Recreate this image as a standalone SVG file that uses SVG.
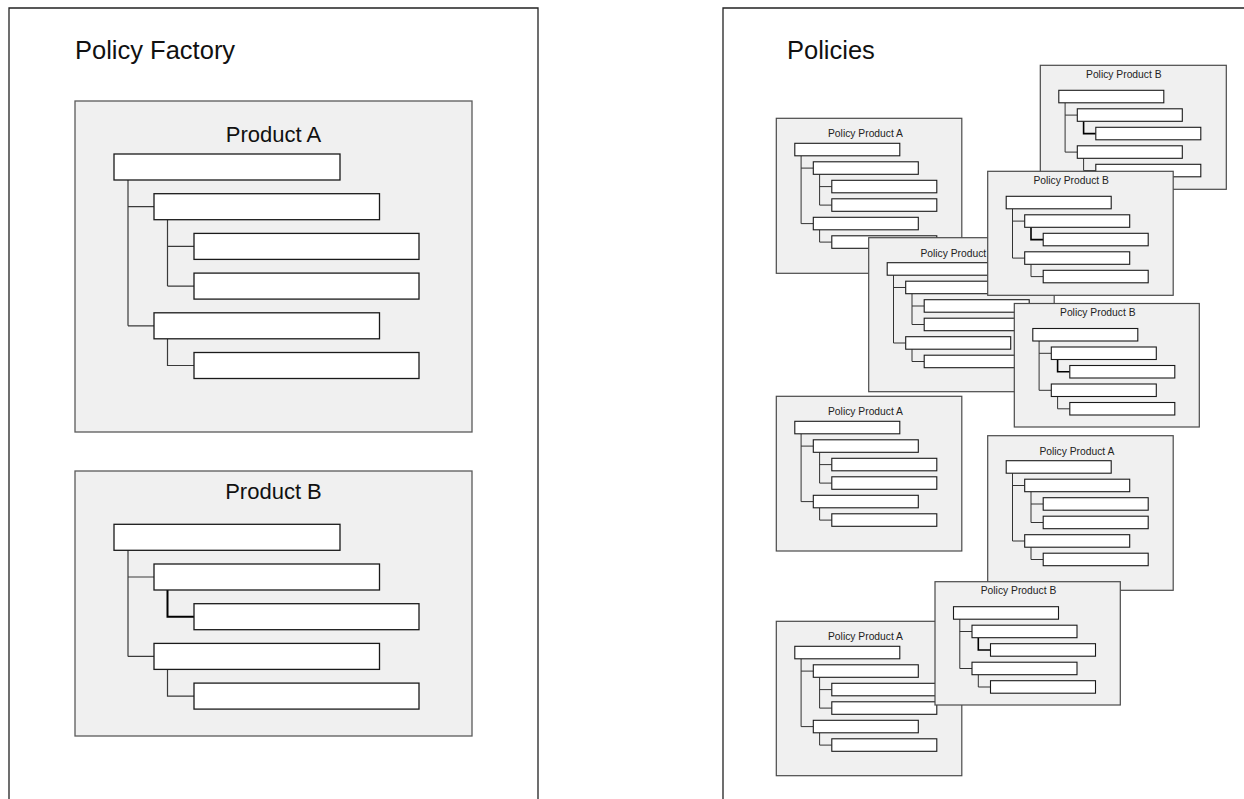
<svg xmlns="http://www.w3.org/2000/svg" width="1244" height="799" viewBox="0 0 1244 799">
  <style>
    .frame { fill: none; stroke: #222; stroke-width: 1.3; }
    .panel-title { font-family: "Liberation Sans", Arial, sans-serif; font-size: 25.5px; fill: #111; }
    .product { fill: #f0f0f0; stroke: #5a5a5a; stroke-width: 1.3; }
    .product-title { font-family: "Liberation Sans", Arial, sans-serif; font-size: 22px; fill: #111; text-anchor: middle; }
    .field { fill: #fff; stroke: #1a1a1a; stroke-width: 1.3; }
    .link { fill: none; stroke: #3a3a3a; stroke-width: 1.2; }
    .link-bold { fill: none; stroke: #000; stroke-width: 2; }
    .card { fill: #f0f0f0; stroke: #4a4a4a; stroke-width: 1.2; }
    .card-title { font-family: "Liberation Sans", Arial, sans-serif; font-size: 10.3px; fill: #222; text-anchor: middle; }
    .sfield { fill: #fff; stroke: #1a1a1a; stroke-width: 1.1; }
    .slink { fill: none; stroke: #333; stroke-width: 1; }
    .slink-bold { fill: none; stroke: #000; stroke-width: 1.6; }
  </style>

  <rect width="1244" height="799" fill="#fff"/>

  <!-- Left panel: the factory holding the product templates -->
  <g id="policy-factory">
    <path class="frame" d="M9 805 V8 H538 V805"/>
    <text class="panel-title" x="75" y="59.3">Policy Factory</text>
  </g>

  <!-- Product A template -->
  <g id="product-a">
    <rect class="product" x="75" y="101" width="397" height="331"/>
    <text class="product-title" x="273.5" y="141.7">Product A</text>
    <g class="tree-links">
      <path class="link" d="M128 180 V325.8 M128 206.7 H154 M128 325.8 H154"/>
      <path class="link" d="M167.5 219.7 V286.1 M167.5 246.4 H194 M167.5 286.1 H194"/>
      <path class="link" d="M167.5 338.8 V365.5 H194"/>
    </g>
    <rect class="field" x="114" y="154" width="226" height="26"/>
    <rect class="field" x="154" y="193.7" width="225.5" height="26"/>
    <rect class="field" x="194" y="233.4" width="225" height="26"/>
    <rect class="field" x="194" y="273.1" width="225" height="26"/>
    <rect class="field" x="154" y="312.8" width="225.5" height="26"/>
    <rect class="field" x="194" y="352.5" width="225" height="26"/>
  </g>

  <!-- Product B template -->
  <g id="product-b">
    <rect class="product" x="75" y="471" width="397" height="265"/>
    <text class="product-title" x="273.5" y="499.3">Product B</text>
    <g class="tree-links">
      <path class="link" d="M128 550.3 V656.4 M128 577 H154 M128 656.4 H154"/>
      <path class="link-bold" d="M167.5 590 V616.7 H194"/>
      <path class="link" d="M167.5 669.4 V696.1 H194"/>
    </g>
    <rect class="field" x="114" y="524.3" width="226" height="26"/>
    <rect class="field" x="154" y="564" width="225.5" height="26"/>
    <rect class="field" x="194" y="603.7" width="225" height="26"/>
    <rect class="field" x="154" y="643.4" width="225.5" height="26"/>
    <rect class="field" x="194" y="683.1" width="225" height="26"/>
  </g>

  <!-- Right panel: issued policies -->
  <g id="policies">
    <path class="frame" d="M723 805 V8 H1250"/>
    <text class="panel-title" x="787" y="59.3">Policies</text>
  </g>

  <!-- Policy cards, back to front -->
  <g id="policy-a1" transform="translate(776.3 118.3)">
    <rect class="card" width="185.5" height="155"/>
    <text class="card-title" x="89.2" y="19">Policy Product A</text>
    <path class="slink" d="M24.8 37.5 V105.3 M24.8 49.8 H37 M24.8 105.3 H37 M43.3 56 V86.8 M43.3 68.3 H55.5 M43.3 86.8 H55.5 M43.3 111.5 V123.8 H55.5"/>
    <rect class="sfield" x="18.5" y="25" width="105" height="12.5"/>
    <rect class="sfield" x="37" y="43.5" width="105" height="12.5"/>
    <rect class="sfield" x="55.5" y="62" width="105" height="12.5"/>
    <rect class="sfield" x="55.5" y="80.5" width="105" height="12.5"/>
    <rect class="sfield" x="37" y="99" width="105" height="12.5"/>
    <rect class="sfield" x="55.5" y="117.5" width="105" height="12.5"/>
  </g>

  <g id="policy-b1" transform="translate(1040.3 65.3)">
    <rect class="card" width="186" height="124"/>
    <text class="card-title" x="83.5" y="12.4">Policy Product B</text>
    <path class="slink" d="M24.8 37.5 V86.8 M24.8 49.8 H37 M24.8 86.8 H37 M43.3 93 V105.3 H55.5"/>
    <path class="slink-bold" d="M43.3 56 V68.3 H55.5"/>
    <rect class="sfield" x="18.5" y="25" width="105" height="12.5"/>
    <rect class="sfield" x="37" y="43.5" width="105" height="12.5"/>
    <rect class="sfield" x="55.5" y="62" width="105" height="12.5"/>
    <rect class="sfield" x="37" y="80.5" width="105" height="12.5"/>
    <rect class="sfield" x="55.5" y="99" width="105" height="12.5"/>
  </g>

  <g id="policy-a2" transform="translate(868.7 237.7)">
    <rect class="card" width="185.5" height="154"/>
    <text class="card-title" x="89.2" y="19">Policy Product A</text>
    <path class="slink" d="M24.8 37.5 V105.3 M24.8 49.8 H37 M24.8 105.3 H37 M43.3 56 V86.8 M43.3 68.3 H55.5 M43.3 86.8 H55.5 M43.3 111.5 V123.8 H55.5"/>
    <rect class="sfield" x="18.5" y="25" width="105" height="12.5"/>
    <rect class="sfield" x="37" y="43.5" width="105" height="12.5"/>
    <rect class="sfield" x="55.5" y="62" width="105" height="12.5"/>
    <rect class="sfield" x="55.5" y="80.5" width="105" height="12.5"/>
    <rect class="sfield" x="37" y="99" width="105" height="12.5"/>
    <rect class="sfield" x="55.5" y="117.5" width="105" height="12.5"/>
  </g>

  <g id="policy-b2" transform="translate(987.7 171.3)">
    <rect class="card" width="185.5" height="124"/>
    <text class="card-title" x="83.5" y="12.4">Policy Product B</text>
    <path class="slink" d="M24.8 37.5 V86.8 M24.8 49.8 H37 M24.8 86.8 H37 M43.3 93 V105.3 H55.5"/>
    <path class="slink-bold" d="M43.3 56 V68.3 H55.5"/>
    <rect class="sfield" x="18.5" y="25" width="105" height="12.5"/>
    <rect class="sfield" x="37" y="43.5" width="105" height="12.5"/>
    <rect class="sfield" x="55.5" y="62" width="105" height="12.5"/>
    <rect class="sfield" x="37" y="80.5" width="105" height="12.5"/>
    <rect class="sfield" x="55.5" y="99" width="105" height="12.5"/>
  </g>

  <g id="policy-b3" transform="translate(1014.3 303.5)">
    <rect class="card" width="185" height="123.5"/>
    <text class="card-title" x="83.5" y="12.4">Policy Product B</text>
    <path class="slink" d="M24.8 37.5 V86.8 M24.8 49.8 H37 M24.8 86.8 H37 M43.3 93 V105.3 H55.5"/>
    <path class="slink-bold" d="M43.3 56 V68.3 H55.5"/>
    <rect class="sfield" x="18.5" y="25" width="105" height="12.5"/>
    <rect class="sfield" x="37" y="43.5" width="105" height="12.5"/>
    <rect class="sfield" x="55.5" y="62" width="105" height="12.5"/>
    <rect class="sfield" x="37" y="80.5" width="105" height="12.5"/>
    <rect class="sfield" x="55.5" y="99" width="105" height="12.5"/>
  </g>

  <g id="policy-a3" transform="translate(776.3 396.3)">
    <rect class="card" width="185.5" height="154.7"/>
    <text class="card-title" x="89.2" y="19">Policy Product A</text>
    <path class="slink" d="M24.8 37.5 V105.3 M24.8 49.8 H37 M24.8 105.3 H37 M43.3 56 V86.8 M43.3 68.3 H55.5 M43.3 86.8 H55.5 M43.3 111.5 V123.8 H55.5"/>
    <rect class="sfield" x="18.5" y="25" width="105" height="12.5"/>
    <rect class="sfield" x="37" y="43.5" width="105" height="12.5"/>
    <rect class="sfield" x="55.5" y="62" width="105" height="12.5"/>
    <rect class="sfield" x="55.5" y="80.5" width="105" height="12.5"/>
    <rect class="sfield" x="37" y="99" width="105" height="12.5"/>
    <rect class="sfield" x="55.5" y="117.5" width="105" height="12.5"/>
  </g>

  <g id="policy-a4" transform="translate(987.7 435.7)">
    <rect class="card" width="185.5" height="154.6"/>
    <text class="card-title" x="89.2" y="19">Policy Product A</text>
    <path class="slink" d="M24.8 37.5 V105.3 M24.8 49.8 H37 M24.8 105.3 H37 M43.3 56 V86.8 M43.3 68.3 H55.5 M43.3 86.8 H55.5 M43.3 111.5 V123.8 H55.5"/>
    <rect class="sfield" x="18.5" y="25" width="105" height="12.5"/>
    <rect class="sfield" x="37" y="43.5" width="105" height="12.5"/>
    <rect class="sfield" x="55.5" y="62" width="105" height="12.5"/>
    <rect class="sfield" x="55.5" y="80.5" width="105" height="12.5"/>
    <rect class="sfield" x="37" y="99" width="105" height="12.5"/>
    <rect class="sfield" x="55.5" y="117.5" width="105" height="12.5"/>
  </g>

  <g id="policy-a5" transform="translate(776.3 621.3)">
    <rect class="card" width="185.5" height="154.4"/>
    <text class="card-title" x="89.2" y="19">Policy Product A</text>
    <path class="slink" d="M24.8 37.5 V105.3 M24.8 49.8 H37 M24.8 105.3 H37 M43.3 56 V86.8 M43.3 68.3 H55.5 M43.3 86.8 H55.5 M43.3 111.5 V123.8 H55.5"/>
    <rect class="sfield" x="18.5" y="25" width="105" height="12.5"/>
    <rect class="sfield" x="37" y="43.5" width="105" height="12.5"/>
    <rect class="sfield" x="55.5" y="62" width="105" height="12.5"/>
    <rect class="sfield" x="55.5" y="80.5" width="105" height="12.5"/>
    <rect class="sfield" x="37" y="99" width="105" height="12.5"/>
    <rect class="sfield" x="55.5" y="117.5" width="105" height="12.5"/>
  </g>

  <g id="policy-b4" transform="translate(935 581.7)">
    <rect class="card" width="185.3" height="123.3"/>
    <text class="card-title" x="83.5" y="12.4">Policy Product B</text>
    <path class="slink" d="M24.8 37.5 V86.8 M24.8 49.8 H37 M24.8 86.8 H37 M43.3 93 V105.3 H55.5"/>
    <path class="slink-bold" d="M43.3 56 V68.3 H55.5"/>
    <rect class="sfield" x="18.5" y="25" width="105" height="12.5"/>
    <rect class="sfield" x="37" y="43.5" width="105" height="12.5"/>
    <rect class="sfield" x="55.5" y="62" width="105" height="12.5"/>
    <rect class="sfield" x="37" y="80.5" width="105" height="12.5"/>
    <rect class="sfield" x="55.5" y="99" width="105" height="12.5"/>
  </g>
</svg>
